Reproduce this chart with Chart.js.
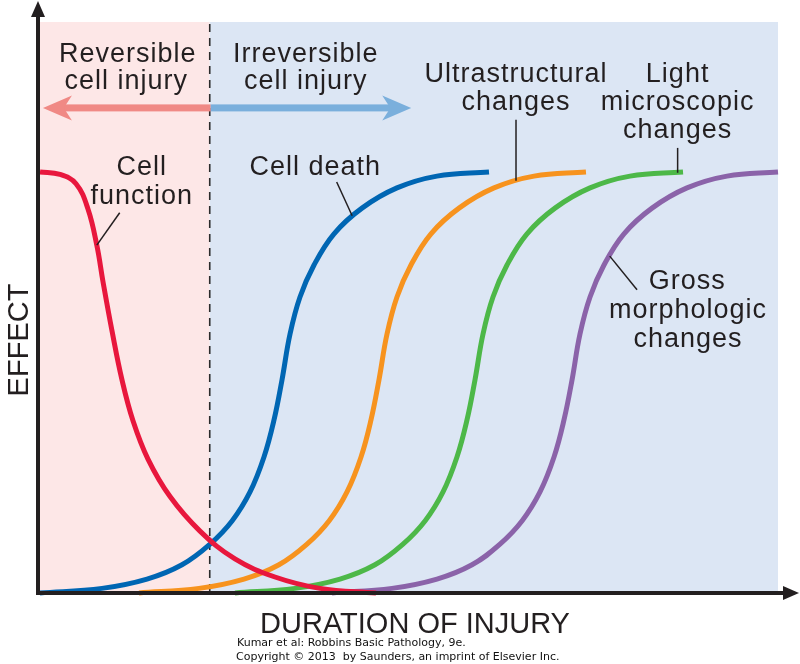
<!DOCTYPE html>
<html>
<head>
<meta charset="utf-8">
<script src="https://cdn.jsdelivr.net/npm/chart.js@4/dist/chart.umd.min.js"></script>
<style>
html,body{margin:0;padding:0;background:#ffffff;}
#wrap{width:800px;height:664px;position:relative;}
</style>
</head>
<body>
<div id="wrap"><canvas id="c" width="800" height="664"></canvas></div>
<script>
// ---------- DATA (duration of injury 0–100, effect 0–100) ----------
const seriesNames = ["Cell function", "Cell death", "Ultrastructural changes", "Light microscopic changes", "Gross morphologic changes"];

const cellFunctionX = [0, 2.71, 4.88, 6.50, 7.72, 8.54, 9.76, 11.11, 12.60, 14.63, 17.62, 21.68, 26.42, 31.84, 37.94, 45.53];
const cellFunctionY = [100, 99.4, 97.2, 91.2, 82.4, 73.9, 62.2, 50.6, 40.9, 31.8, 22.9, 14.7, 8.1, 3.8, 1.1, 0];

// effect values (same sample heights for all four)
const risingEffect = [0, 1.1, 3.3, 6.7, 11.6, 17.1, 24.0, 32.3, 41.1, 50.6, 61.5, 70.3, 77.9, 85.3, 91.4, 96.2, 99.0, 100];

const cellDeathX = [0, 8.40, 14.50, 19.24, 23.04, 26.02, 28.46, 30.35, 31.71, 32.79, 33.88, 35.23, 37.13, 39.84, 43.63, 48.37, 53.79, 60.84];
const ultraX     = [13.41, 21.54, 27.64, 32.38, 36.18, 39.16, 41.60, 43.50, 44.85, 45.93, 47.02, 48.37, 50.27, 52.98, 56.78, 61.52, 66.94, 73.98];
const lightX     = [26.42, 34.55, 40.65, 45.39, 49.19, 52.17, 54.61, 56.50, 57.86, 58.94, 60.03, 61.38, 63.28, 65.99, 69.78, 74.53, 79.95, 87.13];
const grossX     = [39.57, 47.70, 53.79, 58.54, 62.33, 65.31, 67.75, 69.65, 71.00, 72.09, 73.17, 74.53, 76.42, 79.13, 82.93, 87.67, 93.09, 100];

const reversibleLimit = 23.0;      // duration where irreversible injury begins
const durationMax = 100;
const effectMax = 135.6;

// ---------- STYLE / LAYOUT ----------
const seriesColors = ["#e8173d", "#0066b3", "#f7931e", "#4db848", "#8b63a9"];
const TEXT = "#231f20";
const LABEL_FONT = '27px "Liberation Sans", Arial, Helvetica, sans-serif';

// in-plot annotation anchors, in data units (duration, effect)
const labels = [
  {t: "Reversible", x: 11.9, e: 126.2},
  {t: "cell injury", x: 11.7, e: 119.8},
  {t: "Irreversible", x: 36.0, e: 126.2},
  {t: "cell injury", x: 36.0, e: 119.8},
  {t: "Ultrastructural", x: 64.5, e: 121.4},
  {t: "changes", x: 64.5, e: 114.7},
  {t: "Light", x: 86.4, e: 121.4},
  {t: "microscopic", x: 86.4, e: 114.7},
  {t: "changes", x: 86.4, e: 108.1},
  {t: "Cell", x: 13.8, e: 99.3},
  {t: "function", x: 13.8, e: 92.4},
  {t: "Cell death", x: 37.3, e: 99.3},
  {t: "Gross", x: 87.7, e: 72.2},
  {t: "morphologic", x: 87.8, e: 65.3},
  {t: "changes", x: 87.8, e: 58.4}
];
const leaders = [
  [7.7, 82.6, 10.8, 90.3],
  [42.3, 89.6, 40.2, 97.6],
  [64.5, 97.9, 64.5, 112.4],
  [86.4, 99.8, 86.4, 105.7],
  [77.2, 80.0, 80.9, 72.0]
];
const arrowLevel = 115.2;
const arrowLeftTip = 0.4;
const arrowRightTip = 50.3;

function pts(xs, ys) { return xs.map((x, i) => ({x: x, y: ys[i]})); }
const seriesData = [
  pts(cellFunctionX, cellFunctionY),
  pts(cellDeathX, risingEffect),
  pts(ultraX, risingEffect),
  pts(lightX, risingEffect),
  pts(grossX, risingEffect)
];

function arrow(ctx, x0, x1, y, color) {
  const dir = x1 > x0 ? 1 : -1;
  const headLen = 29, headHalf = 12.5, shaft = 7;
  ctx.fillStyle = color;
  ctx.fillRect(Math.min(x0, x1 - dir * headLen * 0.7), y - shaft / 2, Math.abs((x1 - dir * headLen * 0.7) - x0), shaft);
  ctx.beginPath();
  ctx.moveTo(x1, y);
  ctx.lineTo(x1 - dir * headLen, y - headHalf);
  ctx.lineTo(x1 - dir * headLen * 0.72, y);
  ctx.lineTo(x1 - dir * headLen, y + headHalf);
  ctx.closePath();
  ctx.fill();
}

const decor = {
  id: "decor",
  beforeDatasetsDraw(chart) {
    const ctx = chart.ctx, xs = chart.scales.x, ca = chart.chartArea;
    const xb = xs.getPixelForValue(reversibleLimit);
    const x0 = xs.getPixelForValue(0), x1 = xs.getPixelForValue(durationMax);
    ctx.save();
    ctx.fillStyle = "#fde7e7";
    ctx.fillRect(x0, ca.top, xb - x0, ca.bottom - ca.top);
    ctx.fillStyle = "#dce6f4";
    ctx.fillRect(xb, ca.top, x1 - xb, ca.bottom - ca.top);
    ctx.strokeStyle = "#2b2b2b";
    ctx.lineWidth = 1.6;
    ctx.setLineDash([8, 6]);
    ctx.beginPath();
    ctx.moveTo(xb, ca.top + 2);
    ctx.lineTo(xb, ca.bottom);
    ctx.stroke();
    ctx.restore();
  },
  afterDatasetsDraw(chart) {
    const ctx = chart.ctx, xs = chart.scales.x, ys = chart.scales.y, ca = chart.chartArea;
    const P = (x, e) => [xs.getPixelForValue(x), ys.getPixelForValue(e)];
    ctx.save();
    // region arrows
    const xb = xs.getPixelForValue(reversibleLimit);
    const ya = ys.getPixelForValue(arrowLevel);
    arrow(ctx, xb + 1, xs.getPixelForValue(arrowLeftTip), ya, "#f08985");
    arrow(ctx, xb + 1, xs.getPixelForValue(arrowRightTip), ya, "#7aafdc");
    // leader lines
    ctx.strokeStyle = TEXT;
    ctx.lineWidth = 1.5;
    leaders.forEach(l => {
      const a = P(l[0], l[1]), b = P(l[2], l[3]);
      ctx.beginPath(); ctx.moveTo(a[0], a[1]); ctx.lineTo(b[0], b[1]); ctx.stroke();
    });
    // labels
    ctx.fillStyle = TEXT;
    ctx.font = LABEL_FONT;
    try { ctx.letterSpacing = "1px"; } catch (e) {}
    ctx.textAlign = "center";
    ctx.textBaseline = "alphabetic";
    labels.forEach(l => { const p = P(l.x, l.e); ctx.fillText(l.t, p[0], p[1]); });
    try { ctx.letterSpacing = "0px"; } catch (e) {}
    // axes
    const ax = ca.left - 2, ay = ca.bottom;
    ctx.fillStyle = TEXT;
    ctx.fillRect(ax - 2, 14, 4, ay - 14 + 2);
    ctx.beginPath(); ctx.moveTo(ax, 1); ctx.lineTo(ax - 7, 17); ctx.lineTo(ax + 7, 17); ctx.closePath(); ctx.fill();
    ctx.fillRect(ax - 2, ay - 2, 786 - ax, 4);
    ctx.beginPath(); ctx.moveTo(799, ay); ctx.lineTo(783, ay - 7); ctx.lineTo(783, ay + 7); ctx.closePath(); ctx.fill();
    // axis titles
    ctx.font = '29px "Liberation Sans", Arial, Helvetica, sans-serif';
    ctx.textAlign = "center";
    ctx.textBaseline = "alphabetic";
    ctx.fillText("DURATION OF INJURY", 415, 633);
    ctx.save();
    ctx.translate(28, 340);
    ctx.rotate(-Math.PI / 2);
    ctx.fillText("EFFECT", 0, 0);
    ctx.restore();
    // credits
    ctx.font = '11px "DejaVu Sans", Verdana, sans-serif';
    ctx.textAlign = "left";
    ctx.fillStyle = "#111111";
    ctx.fillText("Kumar et al: Robbins Basic Pathology, 9e.", 237, 646);
    ctx.fillText("Copyright \u00A9 2013  by Saunders, an imprint of Elsevier Inc.", 236, 660);
    ctx.restore();
  }
};

new Chart(document.getElementById("c"), {
  type: "line",
  data: {
    datasets: seriesNames.map((n, i) => ({
      label: n,
      data: seriesData[i],
      borderColor: seriesColors[i],
      borderWidth: 5,
      pointRadius: 0,
      fill: false,
      tension: 0.4,
      borderCapStyle: "butt",
      borderJoinStyle: "round",
      clip: false
    }))
  },
  options: {
    responsive: false,
    animation: false,
    devicePixelRatio: 1,
    layout: {padding: {left: 40, right: 22, top: 22, bottom: 71}},
    scales: {
      x: {type: "linear", min: 0, max: durationMax, display: false},
      y: {type: "linear", min: 0, max: effectMax, display: false}
    },
    plugins: {legend: {display: false}, tooltip: {enabled: false}}
  },
  plugins: [decor]
});
</script>
</body>
</html>
